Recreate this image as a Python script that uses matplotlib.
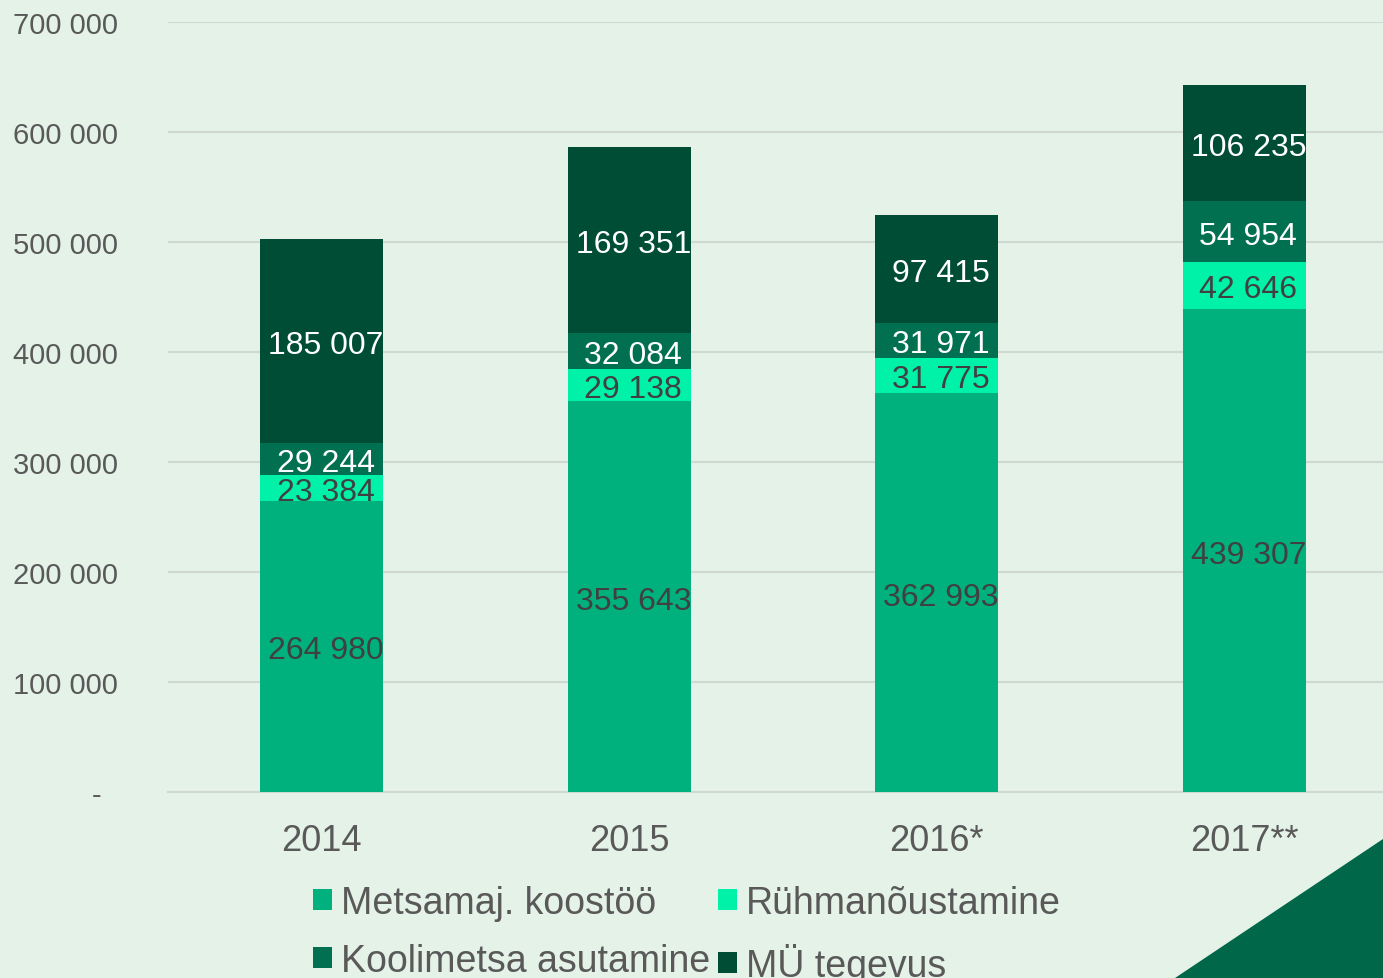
import matplotlib.pyplot as plt
import numpy as np
from matplotlib.patches import Polygon, Patch

# =========================
# DATA
# =========================
years = ["2014", "2015", "2016*", "2017**"]
metsamaj = [264980, 355643, 362993, 439307]
ruhman = [23384, 29138, 31775, 42646]
koolimets = [29244, 32084, 31971, 54954]
mu_tegevus = [185007, 169351, 97415, 106235]

series_names = ["Metsamaj. koostöö", "Rühmanõustamine", "Koolimetsa asutamine", "MÜ tegevus"]
colors = ["#00B07D", "#00F2A9", "#007050", "#004D36"]
label_colors = ["#404040", "#404040", "white", "white"]

BG = "#E4F2E8"
TICK_COLOR = "#595959"

plt.rcParams["font.family"] = ["Liberation Sans", "DejaVu Sans"]

fig = plt.figure(figsize=(13.83, 9.79), dpi=100, facecolor=BG)
ax = fig.add_axes([168 / 1383, 186 / 979, 1 - 168 / 1383, 770 / 979])
ax.set_facecolor(BG)

x = np.arange(len(years))
bottom = np.zeros(len(years))
for vals, col, lc in zip([metsamaj, ruhman, koolimets, mu_tegevus], colors, label_colors):
    vals = np.array(vals)
    ax.bar(x, vals, width=0.4, bottom=bottom, color=col, zorder=3)
    for xi, b, v in zip(x, bottom, vals):
        txt = f"{v:,}".replace(",", " ")
        ax.annotate(txt, (xi + 0.013, b + v / 2), xytext=(0, -3),
                    textcoords="offset points", ha="center", va="center",
                    fontsize=23, color=lc, zorder=4)
    bottom = bottom + vals

ax.set_xlim(-0.5, 3.451)
ax.set_ylim(0, 700000)
ax.set_yticks(np.arange(0, 700001, 100000))
ax.set_yticklabels(["-  "] + [f"{v:,}".replace(",", " ") for v in range(100000, 700001, 100000)])
ax.set_xticks(x)
ax.set_xticklabels(years)
ax.grid(axis="y", color="#D0D8D2", linewidth=1.5, zorder=0)
for s in ["top", "right", "left"]:
    ax.spines[s].set_visible(False)
ax.spines["bottom"].set_color("#D0D8D2")
ax.spines["bottom"].set_linewidth(1.5)
ax.tick_params(axis="y", length=0, pad=36, labelsize=21, labelcolor=TICK_COLOR)
ax.tick_params(axis="x", length=0, pad=22, labelsize=26, labelcolor=TICK_COLOR)

# legend
handles = [Patch(facecolor=c, edgecolor="none") for c in colors]
order = [0, 2, 1, 3]
leg = fig.legend([handles[i] for i in order], [series_names[i] for i in order],
                 ncol=2, loc="upper left", bbox_to_anchor=(313 / 1383, 1 - 886 / 979),
                 frameon=False, handlelength=0.5, handleheight=0.5,
                 handletextpad=0.25, columnspacing=0.2, labelspacing=0.58,
                 prop={"size": 27}, borderaxespad=0, borderpad=0)
for t in leg.get_texts():
    t.set_color(TICK_COLOR)

# corner triangle
tri = Polygon([(1175 / 1383, 0), (1, 0), (1, 139 / 979)], closed=True,
              transform=fig.transFigure, facecolor="#006848", edgecolor="none")
fig.patches.append(tri)

fig.savefig("out.png", dpi=100, facecolor=BG)
